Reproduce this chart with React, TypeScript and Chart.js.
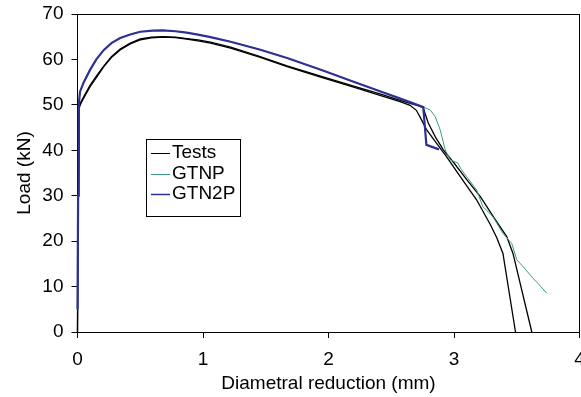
import React, { useEffect, useRef } from 'react';
import { Chart, registerables } from 'chart.js';

Chart.register(...registerables);

// ---- Data ----
const xTickValues = [0, 1, 2, 3, 4];
const yTickValues = [0, 10, 20, 30, 40, 50, 60, 70];

const seriesNames = ['Tests', 'GTNP', 'GTN2P'];

// Test specimen 1
const test1X = [0, 0.005, 0.015, 0.03, 0.06, 0.1, 0.15, 0.21, 0.27, 0.34, 0.42, 0.5, 0.59, 0.68, 0.78, 0.87, 0.96, 1.06, 1.22, 1.45, 1.67, 1.95, 2.2, 2.41, 2.57, 2.65, 2.7, 2.73, 2.78, 2.86, 2.94, 3.05, 3.18, 3.29, 3.34, 3.39, 3.49];
const test1Y = [0, 25, 49.5, 50.5, 52.0, 54.0, 56.0, 58.4, 60.4, 62.1, 63.4, 64.3, 64.75, 64.9, 64.8, 64.5, 64.1, 63.6, 62.5, 60.5, 58.4, 56.0, 53.9, 52.1, 50.7, 49.9, 48.8, 47.3, 44.6, 41.6, 38.6, 34.2, 29.1, 23.6, 20.8, 17.3, 0];

// Test specimen 2
const test2X = [0, 0.005, 0.015, 0.03, 0.06, 0.1, 0.15, 0.21, 0.27, 0.34, 0.42, 0.5, 0.59, 0.68, 0.78, 0.87, 0.96, 1.06, 1.22, 1.45, 1.67, 1.95, 2.2, 2.41, 2.57, 2.65, 2.72, 2.755, 2.795, 2.85, 2.915, 3.0, 3.1, 3.21, 3.33, 3.42, 3.47, 3.62];
const test2Y = [0, 25, 49.7, 50.8, 52.3, 54.3, 56.3, 58.6, 60.6, 62.3, 63.6, 64.5, 64.9, 65.0, 64.9, 64.6, 64.3, 63.8, 62.7, 60.7, 58.6, 56.2, 54.1, 52.4, 51.0, 50.3, 49.8, 49.3, 46.0, 43.0, 40.1, 37.2, 33.6, 29.8, 24.7, 21.0, 17.3, 0];

// GTNP model
const gtnpX = [0, 0.005, 0.01, 0.02, 0.05, 0.1, 0.15, 0.21, 0.27, 0.34, 0.42, 0.5, 0.6, 0.68, 0.78, 0.87, 0.96, 1.06, 1.22, 1.45, 1.67, 1.95, 2.2, 2.41, 2.6, 2.755, 2.81, 2.85, 2.89, 2.93, 2.97, 3.03, 3.06, 3.1, 3.18, 3.23, 3.31, 3.39, 3.46, 3.5, 3.55, 3.63, 3.67, 3.74];
const gtnpY = [5, 30, 50, 52.9, 55.0, 57.7, 60.0, 62.1, 63.6, 64.7, 65.5, 66.1, 66.35, 66.4, 66.2, 65.9, 65.45, 64.9, 63.9, 62.2, 60.3, 57.6, 55.1, 53.0, 51.1, 49.5, 48.9, 47.4, 44.5, 40.1, 37.9, 37.2, 35.7, 34.2, 31.3, 27.6, 25.4, 21.7, 19.5, 15.9, 14.4, 11.8, 10.7, 8.5];

// GTN2P model
const gtn2pX = [0, 0.005, 0.01, 0.02, 0.05, 0.1, 0.15, 0.21, 0.27, 0.34, 0.42, 0.5, 0.6, 0.68, 0.78, 0.87, 0.96, 1.06, 1.22, 1.45, 1.67, 1.95, 2.2, 2.41, 2.6, 2.755, 2.78, 2.88];
const gtn2pY = [5, 30, 50, 52.9, 55.0, 57.7, 60.0, 62.1, 63.6, 64.7, 65.5, 66.1, 66.35, 66.4, 66.2, 65.9, 65.45, 64.9, 63.9, 62.2, 60.3, 57.6, 55.1, 53.0, 51.1, 49.5, 41.2, 40.2];

const colors = { tests: '#000000', gtnp: '#3a9a88', gtn2p: '#2e3192' };

const FONT = '"Liberation Sans", Arial, sans-serif';

const toPoints = (xs: number[], ys: number[]) => xs.map((x, i) => ({ x, y: ys[i] }));

const frameAndLegend = {
  id: 'frameAndLegend',
  afterDatasetsDraw(chart: any) {
    const { ctx, chartArea } = chart;
    ctx.save();
    ctx.strokeStyle = '#000';
    ctx.lineWidth = 1;
    ctx.beginPath();
    ctx.moveTo(chartArea.left, Math.round(chartArea.top) + 0.5);
    ctx.lineTo(chartArea.right, Math.round(chartArea.top) + 0.5);
    ctx.moveTo(Math.round(chartArea.right) - 0.5, chartArea.top);
    ctx.lineTo(Math.round(chartArea.right) - 0.5, chartArea.bottom);
    ctx.stroke();

    // legend box
    const bx = 146.5, by = 139.5, bw = 94, bh = 77;
    ctx.fillStyle = '#fff';
    ctx.fillRect(bx, by, bw, bh);
    ctx.strokeStyle = '#000';
    ctx.strokeRect(bx, by, bw, bh);
    const legendColors = [colors.tests, colors.gtnp, colors.gtn2p];
    const rowY = [153, 173.5, 194];
    ctx.font = `19px ${FONT}`;
    ctx.textBaseline = 'middle';
    ctx.textAlign = 'left';
    seriesNames.forEach((name, i) => {
      ctx.strokeStyle = legendColors[i];
      ctx.lineWidth = i === 2 ? 1.5 : 1;
      ctx.beginPath();
      ctx.moveTo(151, Math.round(rowY[i]) + 0.5);
      ctx.lineTo(170, Math.round(rowY[i]) + 0.5);
      ctx.stroke();
      ctx.fillStyle = '#000';
      ctx.fillText(name, 172, rowY[i]);
    });
    ctx.restore();
  },
};

export default function App() {
  const ref = useRef<HTMLCanvasElement | null>(null);

  useEffect(() => {
    if (!ref.current) return;
    const lineDs = (label: string, xs: number[], ys: number[], color: string, width: number, order: number) => ({
      label,
      data: toPoints(xs, ys),
      borderColor: color,
      backgroundColor: color,
      borderWidth: width,
      pointRadius: 0,
      showLine: true,
      fill: false,
      tension: 0,
      order,
      clip: false as any,
    });

    const chart = new Chart(ref.current, {
      type: 'scatter',
      data: {
        datasets: [
          lineDs(seriesNames[0], test1X, test1Y, colors.tests, 1.3, 3),
          lineDs(seriesNames[0] + ' 2', test2X, test2Y, colors.tests, 1.3, 2),
          lineDs(seriesNames[1], gtnpX, gtnpY, colors.gtnp, 1, 1),
          lineDs(seriesNames[2], gtn2pX, gtn2pY, colors.gtn2p, 2.2, 0),
        ],
      },
      options: {
        animation: false,
        responsive: false,
        devicePixelRatio: 1,
        layout: { padding: { left: 0, right: 1.5, top: 14, bottom: 0 } },
        plugins: { legend: { display: false }, tooltip: { enabled: false } },
        scales: {
          x: {
            type: 'linear',
            min: 0,
            max: 4,
            afterBuildTicks: (s: any) => { s.ticks = xTickValues.map((v) => ({ value: v })); },
            afterFit: (s: any) => { s.height = 65; s.paddingLeft = 0; s.paddingRight = 0; },
            grid: { display: true, drawOnChartArea: false, drawTicks: true, tickLength: 6, color: '#000' },
            border: { display: true, color: '#000', width: 1 },
            ticks: { color: '#000', font: { family: FONT, size: 19 }, padding: 10, maxRotation: 0, autoSkip: false },
            title: { display: true, text: 'Diametral reduction (mm)', color: '#000', font: { family: FONT, size: 19 }, padding: { top: 0, bottom: 2 } },
          },
          y: {
            type: 'linear',
            min: 0,
            max: 70,
            afterBuildTicks: (s: any) => { s.ticks = yTickValues.map((v) => ({ value: v })); },
            afterFit: (s: any) => { s.width = 77.5; s.paddingTop = 0; s.paddingBottom = 0; },
            grid: { display: true, drawOnChartArea: false, drawTicks: true, tickLength: 6, color: '#000' },
            border: { display: true, color: '#000', width: 1 },
            ticks: { color: '#000', font: { family: FONT, size: 19 }, padding: 8, autoSkip: false },
            title: { display: true, text: 'Load (kN)', color: '#000', font: { family: FONT, size: 19 }, padding: { top: 13, bottom: 0 } },
          },
        },
      },
      plugins: [frameAndLegend],
    });
    return () => chart.destroy();
  }, []);

  return (
    <div style={{ position: 'absolute', left: 0, top: 0, width: 581, height: 397, background: '#fff' }}>
      <canvas ref={ref} width={581} height={397} style={{ display: 'block', width: 581, height: 397 }} />
    </div>
  );
}
